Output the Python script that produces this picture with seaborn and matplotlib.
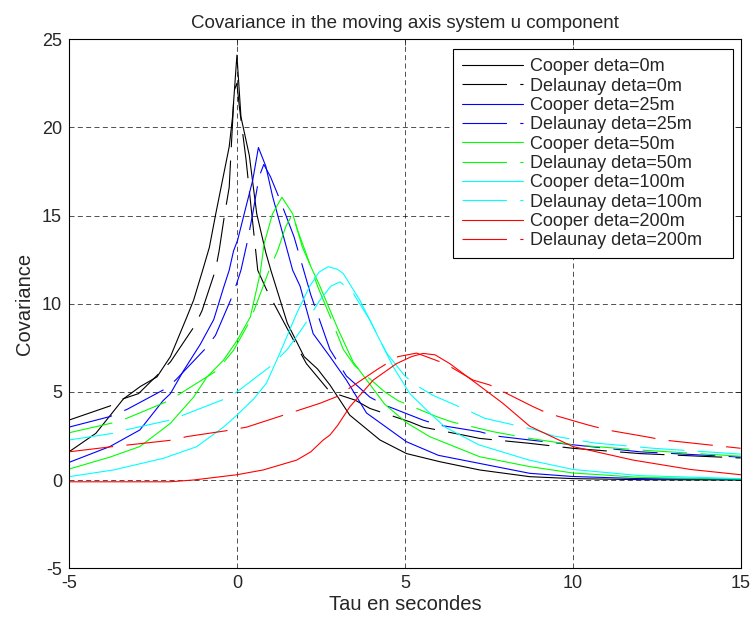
import pandas as pd
import matplotlib
matplotlib.use('Agg')
import matplotlib.pyplot as plt
import seaborn as sns

# valeurs (tau en secondes, covariance)
tau_coop0 = [-5, -4.2, -3.38, -2.88, -2.38, -1.98, -1.49, -1.29, -1.02, -0.82, -0.63, -0.43, -0.23, -0.13, 0,
             0.12, 0.37, 0.59, 0.86, 1.01, 1.5, 2.0, 2.4, 2.77, 3.36, 4.26, 5.05, 6.04, 7.23, 8.72, 10, 12, 15]
cov_coop0 = [1.6, 2.65, 4.6, 5.3, 5.85, 7.0, 9.25, 10.2, 11.9, 13.2, 15.1, 17.0, 18.9, 20.6, 24.1,
             20.6, 18.4, 15.1, 12.9, 11.9, 8.9, 7.0, 6.3, 5.39, 3.68, 2.27, 1.5, 1.04, 0.57, 0.19, 0.08, 0.02, 0.0]

tau_del0 = [-5, -3.78, -3.4, -2.93, -2.29, -1.98, -1.24, -1.04, -0.64, -0.53, -0.38, -0.23, -0.08, 0,
            0.07, 0.27, 0.42, 0.62, 0.88, 1.58, 2.07, 2.77, 3.51, 3.96, 5.15, 5.54, 6.74, 7.23, 8.72, 10, 12, 15]
cov_del0 = [3.4, 4.2, 4.6, 4.9, 6.1, 6.7, 8.8, 9.6, 11.9, 13.0, 14.9, 16.6, 22.1, 22.5,
            21.2, 18.2, 15.5, 11.9, 10.8, 8.3, 6.6, 5.0, 4.54, 4.06, 3.3, 3.0, 2.55, 2.36, 2.08, 1.8, 1.5, 1.25]

tau_coop25 = [-5, -3.78, -2.89, -2.2, -1.98, -1.59, -1.09, -0.69, -0.4, -0.23, -0.1, 0.02, 0.27, 0.47, 0.64,
              0.86, 1.06, 1.36, 1.66, 1.88, 2.27, 2.77, 3.26, 3.86, 5.05, 6, 7.23, 8.72, 10, 12, 15]
cov_coop25 = [1.0, 1.9, 2.84, 4.5, 4.9, 6.2, 7.7, 9.1, 10.9, 11.9, 13.0, 13.6, 15.5, 17.0, 18.86,
              17.8, 16.1, 14.0, 11.9, 11.0, 8.3, 7.0, 5.67, 3.8, 2.17, 1.4, 0.94, 0.38, 0.2, 0.08, 0.03]

tau_del25 = [-5, -3.78, -3.28, -2.2, -1.83, -0.94, -0.64, -0.1, 0.12, 0.32, 0.47, 0.66, 0.8,
             1.0, 1.3, 1.7, 2.2, 2.77, 3.26, 3.96, 4.4, 5.54, 6, 7.23, 7.7, 8.72, 10, 12, 15]
cov_del25 = [3.0, 3.6, 4.0, 5.1, 5.66, 7.45, 8.2, 10.6, 11.9, 13.6, 15.1, 17.2, 17.9,
             17.2, 15.8, 13.8, 10.5, 7.4, 5.9, 4.7, 4.25, 3.4, 3.12, 2.74, 2.5, 2.27, 2.0, 1.6, 1.3]

tau_coop50 = [-5, -3.78, -2.89, -1.99, -1.29, -0.89, -0.4, 0, 0.4, 0.69, 0.81, 1.06, 1.34,
              1.66, 1.95, 2.25, 2.47, 3.0, 3.46, 4.4, 5.05, 5.74, 7.23, 8.72, 10, 12, 15]
cov_coop50 = [0.62, 1.3, 1.9, 3.2, 4.7, 5.85, 6.8, 7.9, 9.25, 11.7, 13.4, 15.1, 16.04,
              15.1, 13.2, 11.9, 11.0, 8.6, 6.7, 4.3, 3.25, 2.46, 1.32, 0.76, 0.4, 0.15, 0.05]

tau_del50 = [-5, -3.68, -3.28, -2.1, -1.69, -0.6, -0.1, 0.4, 0.96, 1.21, 1.46, 1.66,
             1.8, 2.05, 2.4, 2.77, 3.17, 3.5, 4.4, 4.8, 5.94, 6.39, 7.63, 8.72, 10, 12, 15]
cov_del50 = [2.68, 3.25, 3.5, 4.44, 4.9, 6.2, 7.36, 9.06, 11.9, 13.0, 14.4, 15.1,
             14.2, 12.9, 11.0, 9.3, 7.4, 6.5, 5.0, 4.5, 3.6, 3.3, 2.74, 2.36, 2.0, 1.7, 1.35]

tau_coop100 = [-5, -3.68, -2.19, -1.2, -0.4, 0, 0.5, 0.88, 1.28, 1.78, 2.17, 2.45, 2.72,
               3.0, 3.17, 3.66, 4.16, 4.66, 5.15, 5.74, 6.2, 7.2, 8.7, 10, 12, 15]
cov_coop100 = [0.19, 0.57, 1.23, 1.89, 3.0, 3.68, 4.6, 5.5, 7.2, 9.45, 11.0, 11.8, 12.1,
               11.95, 11.7, 10.2, 8.3, 6.4, 4.9, 3.8, 3.0, 2.0, 1.13, 0.6, 0.25, 0.08]

tau_del100 = [-5, -3.68, -3.18, -1.99, -1.6, -0.4, 0, 0.98, 1.5, 1.98, 2.47, 2.8, 3.07,
              3.46, 3.96, 4.46, 5.0, 5.4, 5.84, 6.93, 7.38, 8.92, 9.42, 10.65, 12.4, 15]
cov_del100 = [2.27, 2.65, 2.9, 3.4, 3.68, 4.57, 5.0, 6.42, 7.4, 8.7, 10.2, 11.0, 11.24,
              10.6, 9.07, 7.2, 5.9, 5.3, 4.8, 3.9, 3.5, 2.83, 2.5, 2.1, 1.8, 1.47]

tau_coop200 = [-5, -2, -1.3, 0, 0.78, 1.78, 2.2, 2.57, 2.77, 3.0, 3.36, 4.06, 4.75, 5.2, 5.54,
               5.9, 6.34, 7.13, 7.92, 8.72, 10, 11.8, 13.5, 15]
cov_coop200 = [-0.1, -0.1, 0.0, 0.3, 0.57, 1.13, 1.6, 2.27, 2.55, 3.1, 4.15, 5.67, 6.6, 7.0, 7.18,
               7.1, 6.6, 5.48, 4.35, 3.05, 1.9, 1.13, 0.6, 0.3]

tau_del200 = [-5, -3.68, -3.18, -1.9, -1.5, -0.2, 0.29, 2.47, 2.96, 3.5, 4.2, 4.8, 5.35,
              6.2, 7.03, 7.53, 8.82, 9.26, 10.46, 11.05, 12.2, 12.7, 15]
cov_del200 = [1.6, 1.9, 2.0, 2.27, 2.46, 2.83, 3.0, 4.35, 4.72, 5.4, 6.3, 7.0, 7.2,
              6.6, 5.67, 5.39, 4.16, 3.78, 3.12, 2.83, 2.45, 2.27, 1.8]

courbes = [
    ('Cooper deta=0m', tau_coop0, cov_coop0, 'k', '-'),
    ('Delaunay deta=0m', tau_del0, cov_del0, 'k', '--'),
    ('Cooper deta=25m', tau_coop25, cov_coop25, '#0000ff', '-'),
    ('Delaunay deta=25m', tau_del25, cov_del25, '#0000ff', '--'),
    ('Cooper deta=50m', tau_coop50, cov_coop50, '#00ff00', '-'),
    ('Delaunay deta=50m', tau_del50, cov_del50, '#00ff00', '--'),
    ('Cooper deta=100m', tau_coop100, cov_coop100, '#00ffff', '-'),
    ('Delaunay deta=100m', tau_del100, cov_del100, '#00ffff', '--'),
    ('Cooper deta=200m', tau_coop200, cov_coop200, '#ff0000', '-'),
    ('Delaunay deta=200m', tau_del200, cov_del200, '#ff0000', '--'),
]

sns.set_style('white')
plt.rcParams['font.family'] = ['Liberation Sans', 'DejaVu Sans']
plt.rcParams['axes.unicode_minus'] = False

fig = plt.figure(figsize=(7.55, 6.23), dpi=100)
ax = fig.add_axes([0.0914, 0.088, 0.8896, 0.849])

for nom, t, c, couleur, style in courbes:
    df = pd.DataFrame({'tau': t, 'cov': c})
    sns.lineplot(data=df, x='tau', y='cov', color=couleur, linewidth=0.8,
                 label=nom, ax=ax, estimator=None, sort=False)
    if style == '--':
        ax.lines[-1].set_dashes((40, 12))

ax.set_xlim(-5, 15)
ax.set_ylim(-5, 25)
ax.set_xticks([-5, 0, 5, 10, 15])
ax.set_yticks([-5, 0, 5, 10, 15, 20, 25])
ax.grid(True, color='k', linestyle=(0, (6, 4)), linewidth=0.6, alpha=0.8)
ax.tick_params(direction='in', length=4, top=True, right=True, labelsize=13, width=0.6, pad=5)
for s in ax.spines.values():
    s.set_color('k')
    s.set_linewidth(0.8)

ax.set_title('Covariance in the moving axis system u component', fontsize=13.5, pad=8)
ax.set_xlabel('Tau en secondes', fontsize=14.5, labelpad=2)
ax.set_ylabel('Covariance', fontsize=14.5, labelpad=6)

leg = ax.legend(loc='upper left', bbox_to_anchor=(0.571, 0.582, 0.418, 0.399), mode='expand',
                fontsize=13, handlelength=3.4, frameon=True, fancybox=False, edgecolor='k',
                framealpha=1, borderaxespad=0, labelspacing=0.13, handletextpad=0.4, borderpad=0.5)
leg.get_frame().set_linewidth(0.8)

fig.savefig('out.png', dpi=100)
